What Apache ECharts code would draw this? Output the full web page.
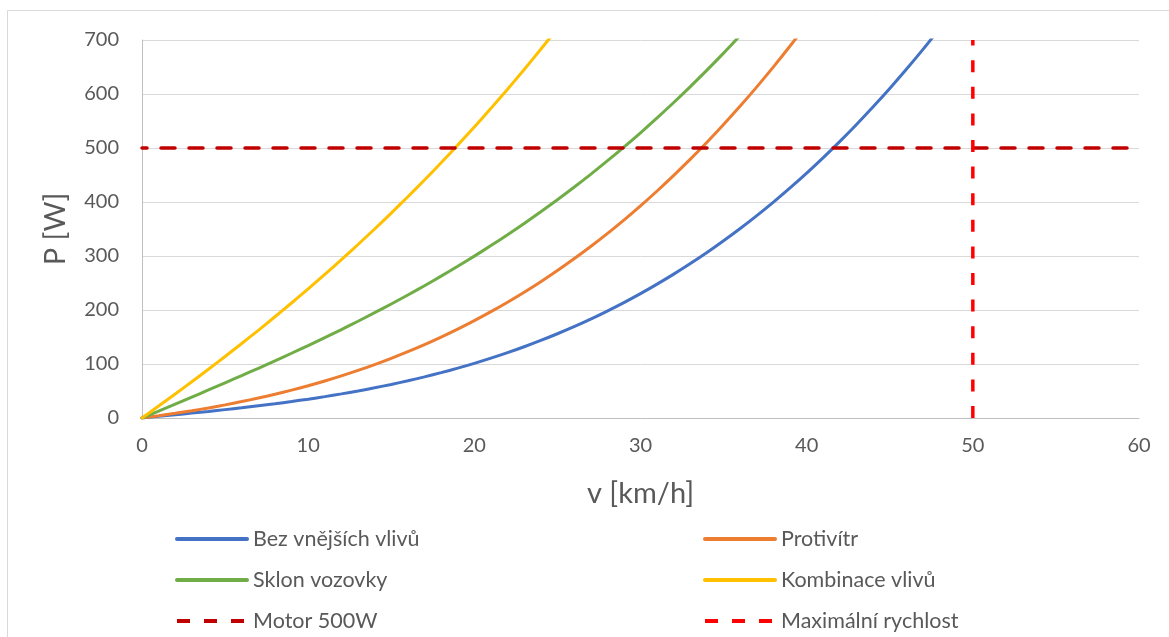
<!DOCTYPE html>
<html>
<head>
<meta charset="utf-8">
<script src="https://cdn.jsdelivr.net/npm/echarts@6/dist/echarts.min.js"></script>
<style>
html,body{margin:0;padding:0;background:#fff;}
#chart{width:1169px;height:637px;}
</style>
</head>
<body>
<div id="chart"></div>
<script>
// Speeds v [km/h]
const speeds = [0,1,2,3,4,5,6,7,8,9,10,11,12,13,14,15,16,17,18,19,20,21,22,23,24,25,26,27,28,29,30,31,32,33,34,35,36,37,38,39,40,41,42,43,44,45,46,47,48];
// Power P [W]
const bezVlivu = [0,3.0,6.0,9.1,12.2,15.5,18.9,22.6,26.4,30.5,34.9,39.6,44.7,50.1,55.9,62.2,68.9,76.2,84.0,92.3,101.2,110.8,121.0,131.9,143.6,156.0,169.1,183.1,198.0,213.7,230.3,247.9,266.4,286.0,306.5,328.2,350.9,374.8,399.8,426.1,453.5,482.2,512.2,543.5,576.2,610.2,645.7,682.6,721.0];
const protivitr = [0,4.1,8.6,13.4,18.7,24.3,30.4,36.9,44.0,51.6,59.8,68.6,78.1,88.2,99.0,110.5,122.8,135.9,149.9,164.6,180.3,196.9,214.5,233.0,252.5,273.1,294.8,317.6,341.5,366.6,392.9,420.4,449.2,479.3,510.7,543.5,577.6,613.2,650.2,688.8,728.8];
const sklon = [0,12.9,25.8,38.8,51.9,65.2,78.5,92.1,105.9,119.9,134.2,148.9,163.8,179.2,195.0,211.2,227.8,245.0,262.7,281.0,299.8,319.3,339.5,360.3,381.9,404.2,427.3,451.2,476.0,501.7,528.2,555.7,584.2,613.7,644.2,675.7,708.4];
const kombinace = [0,22.1,44.5,67.2,90.4,113.9,138.0,162.4,187.5,213.0,239.1,265.9,293.2,321.3,350.0,379.5,409.7,440.7,472.6,505.3,538.9,573.4,608.9,645.4,682.9,721.4];
// Limits
const motorV = [0, 60];
const motorP = [500, 500];
const maxV = [50, 50];
const maxP = [0, 700];
// Axis ticks
const xTicks = [0,10,20,30,40,50,60];
const yTicks = [0,100,200,300,400,500,600,700];

const names = ['Bez vnějších vlivů','Protivítr','Sklon vozovky','Kombinace vlivů','Motor 500W','Maximální rychlost'];

function zip(xs, ys){ return ys.map((y,i)=>[xs[i], y]); }

const FONT = 'Lato';
const TXT = '#595959';

const chart = echarts.init(document.getElementById('chart'), null, {renderer:'canvas'});

function curve(name, data, color){
  return {name, type:'line', data, smooth:0.3, showSymbol:false, symbol:'none',
    lineStyle:{color, width:3, cap:'round'}, itemStyle:{color}, z:3, animation:false};
}

// legend placement: [column left, row center]
const legendPos = [[175,539],[703,539],[175,580],[703,580],[175,621],[703,621]];
const legends = names.map((n,i)=>({
  data:[n], orient:'horizontal', left:legendPos[i][0], top:legendPos[i][1]-11,
  itemWidth:70, itemHeight:14, padding:0,
  itemStyle:{opacity:0},
  lineStyle: i >= 4 ? {width:4, type:[13,14], dashOffset:0, cap:'butt'} : {width:4},
  textStyle:{fontSize:21.5, color:TXT, fontFamily:FONT, padding:[0,0,0,1]}
}));

chart.setOption({
  animation:false,
  backgroundColor:'#fff',
  textStyle:{fontFamily:FONT},
  graphic:[{type:'rect', shape:{x:7.5, y:10.5, width:1200, height:700},
    style:{fill:'none', stroke:'#d9d9d9', lineWidth:1}, silent:true, z:-1}],
  grid:{left:142, right:30, top:40, bottom:219, containLabel:false},
  xAxis:{type:'value', min:xTicks[0], max:xTicks[xTicks.length-1], interval:xTicks[1]-xTicks[0],
    name:'v [km/h]', nameLocation:'middle', nameGap:61,
    nameTextStyle:{fontSize:29, color:TXT, fontFamily:FONT},
    axisLine:{show:true, lineStyle:{color:'#bfbfbf', width:1}},
    axisTick:{show:false}, splitLine:{show:false},
    axisLabel:{fontSize:20, color:TXT, fontFamily:FONT, margin:18}},
  yAxis:{type:'value', min:yTicks[0], max:yTicks[yTicks.length-1], interval:yTicks[1]-yTicks[0],
    name:'P [W]', nameLocation:'middle', nameGap:72, nameRotate:90,
    nameTextStyle:{fontSize:29, color:TXT, fontFamily:FONT},
    axisLine:{show:true, lineStyle:{color:'#bfbfbf', width:1}},
    axisTick:{show:false},
    splitLine:{show:true, lineStyle:{color:'#d9d9d9', width:1}},
    axisLabel:{fontSize:20, color:TXT, fontFamily:FONT, margin:23}},
  legend:legends,
  series:[
    curve(names[0], zip(speeds, bezVlivu), '#4472C4'),
    curve(names[1], zip(speeds, protivitr), '#ED7D31'),
    curve(names[2], zip(speeds, sklon), '#70AD47'),
    curve(names[3], zip(speeds, kombinace), '#FFC000'),
    {name:names[4], type:'line', data:zip(motorV, motorP), showSymbol:false, symbol:'none',
      lineStyle:{color:'#C00000', width:3.5, type:[14,14], cap:'round', dashOffset:9}, itemStyle:{color:'#C00000'}, z:4},
    {name:names[5], type:'line', data:zip(maxV, maxP), showSymbol:false, symbol:'none',
      lineStyle:{color:'#FF0000', width:3.5, type:[12,14.6], cap:'butt'}, itemStyle:{color:'#FF0000'}, z:4}
  ]
});
</script>
</body>
</html>
